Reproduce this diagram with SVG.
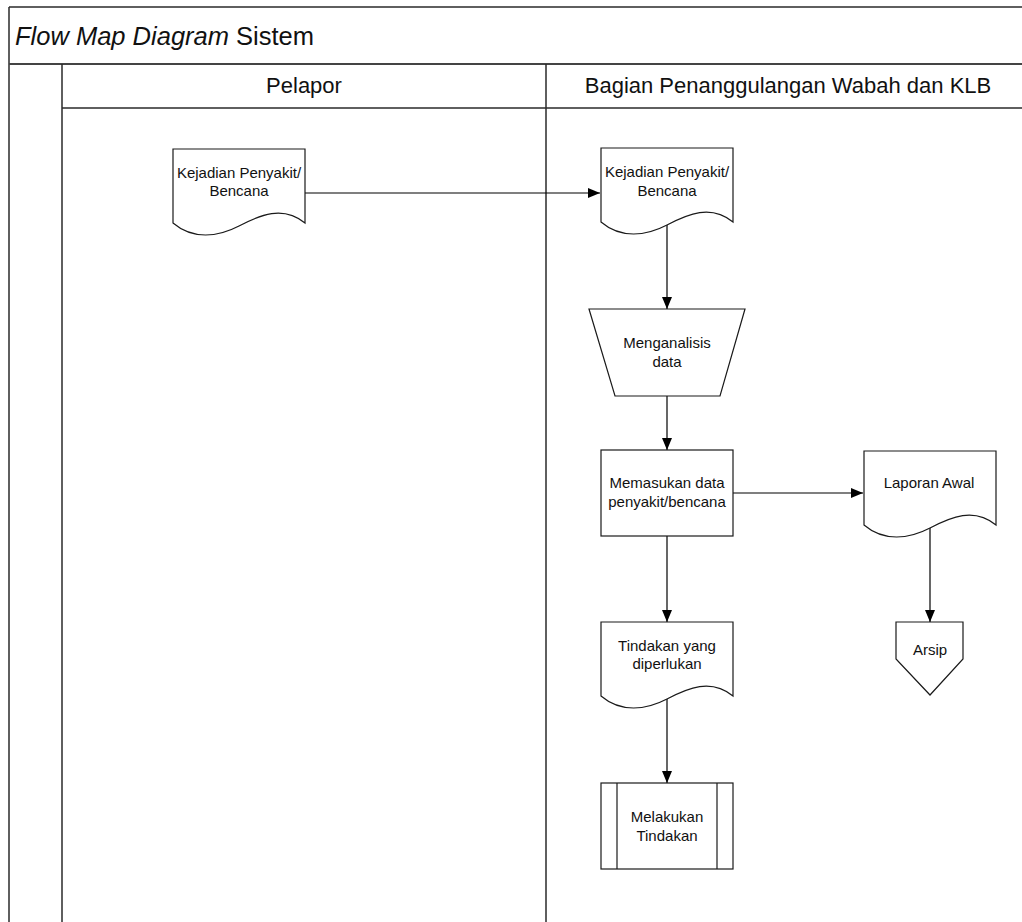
<svg xmlns="http://www.w3.org/2000/svg" xmlns:xlink="http://www.w3.org/1999/xlink" width="1022" height="922" viewBox="0 0 1022 922">
<style>
.frame{stroke:#2a2a2a;stroke-width:1.5;fill:none}
.shape{fill:#fff;stroke:#1a1a1a;stroke-width:1.2}
.conn{stroke:#000;stroke-width:1.2;fill:none}
.t{font-family:"Liberation Sans",Arial,sans-serif;font-size:15px;fill:#111;text-anchor:middle}
.h{font-family:"Liberation Sans",Arial,sans-serif;font-size:22px;fill:#111;text-anchor:middle}
.title{font-family:"Liberation Sans",Arial,sans-serif;font-size:25.5px;fill:#111}
</style>
<defs>
<marker id="arr" markerWidth="12" markerHeight="10" refX="12" refY="5" orient="auto" markerUnits="userSpaceOnUse">
<path d="M0,0 L12,5 L0,10 Z" fill="#000"/>
</marker>
<path id="doc" d="M0,0 H132 V74 C110,56 87,66 66,77 C45,88 20,91 0,74 Z"/>
</defs>
<rect width="1022" height="922" fill="#fff"/>
<g id="frame">
<line class="frame" x1="9" y1="7" x2="1022" y2="7"/>
<line class="frame" x1="9" y1="7" x2="9" y2="922"/>
<line class="frame" x1="9" y1="64" x2="1022" y2="64" style="stroke-width:2.2;stroke:#444"/>
<line class="frame" x1="62" y1="64" x2="62" y2="922"/>
<line class="frame" x1="62" y1="108" x2="1022" y2="108"/>
<line class="frame" x1="546" y1="64" x2="546" y2="922"/>
<text class="title" x="15" y="45"><tspan font-style="italic">Flow Map Diagram</tspan> Sistem</text>
<text class="h" x="304" y="93">Pelapor</text>
<text class="h" x="788" y="93">Bagian Penanggulangan Wabah dan KLB</text>
</g>
<g id="connectors">
<line class="conn" x1="305" y1="193" x2="600" y2="193" marker-end="url(#arr)"/>
<line class="conn" x1="667" y1="225" x2="667" y2="309" marker-end="url(#arr)"/>
<line class="conn" x1="667" y1="396" x2="667" y2="450" marker-end="url(#arr)"/>
<line class="conn" x1="733" y1="493" x2="863" y2="493" marker-end="url(#arr)"/>
<line class="conn" x1="667" y1="536" x2="667" y2="622" marker-end="url(#arr)"/>
<line class="conn" x1="930" y1="528" x2="930" y2="622" marker-end="url(#arr)"/>
<line class="conn" x1="667" y1="699" x2="667" y2="783" marker-end="url(#arr)"/>
</g>
<g id="doc-pelapor">
<use xlink:href="#doc" href="#doc" class="shape" transform="translate(173,149)"/>
<text class="t" x="239" y="178">Kejadian Penyakit/</text>
<text class="t" x="239" y="196">Bencana</text>
</g>
<g id="doc-bagian">
<use xlink:href="#doc" href="#doc" class="shape" transform="translate(601,148)"/>
<text class="t" x="667" y="177">Kejadian Penyakit/</text>
<text class="t" x="667" y="196">Bencana</text>
</g>
<g id="menganalisis">
<path class="shape" d="M589,309 H745 L720,396 H615 Z"/>
<text class="t" x="667" y="348">Menganalisis</text>
<text class="t" x="667" y="367">data</text>
</g>
<g id="memasukan">
<rect class="shape" x="601" y="450" width="132" height="86"/>
<text class="t" x="667" y="488">Memasukan data</text>
<text class="t" x="667" y="507">penyakit/bencana</text>
</g>
<g id="laporan">
<use xlink:href="#doc" href="#doc" class="shape" transform="translate(864,451)"/>
<text class="t" x="929" y="488">Laporan Awal</text>
</g>
<g id="arsip">
<path class="shape" d="M896,622 H963 V659 L930,695 L896,659 Z"/>
<text class="t" x="930" y="655">Arsip</text>
</g>
<g id="tindakan">
<use xlink:href="#doc" href="#doc" class="shape" transform="translate(601,622)"/>
<text class="t" x="667" y="651">Tindakan yang</text>
<text class="t" x="667" y="669">diperlukan</text>
</g>
<g id="melakukan">
<rect class="shape" x="601" y="783" width="132" height="86"/>
<line class="shape" x1="617" y1="783" x2="617" y2="869"/>
<line class="shape" x1="717" y1="783" x2="717" y2="869"/>
<text class="t" x="667" y="822">Melakukan</text>
<text class="t" x="667" y="841">Tindakan</text>
</g>
</svg>
